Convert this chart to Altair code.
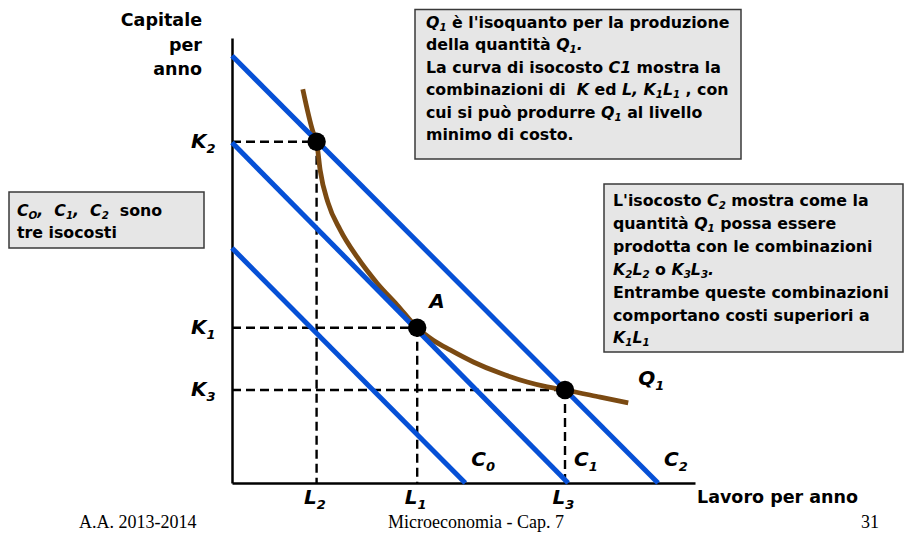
import glob
import os
import struct

import altair as alt
import pandas as pd

# ----------------------------------------------------------------- data
# isocost lines: intercept on the capital axis and on the labour axis
iso_names = ["C0", "C1", "C2"]
iso_k_int = [5.28, 7.65, 9.60]
iso_l_int = [5.24, 7.55, 9.57]

# isoquant Q1 (labour, capital)
q1_L = [1.59, 1.82, 1.90, 1.98, 2.16, 2.43, 2.81, 3.26, 3.71, 4.16,
        4.52, 4.90, 5.42, 6.02, 6.63, 7.08, 7.48, 8.27, 8.90]
q1_K = [8.85, 7.89, 7.67, 7.03, 6.29, 5.69, 5.08, 4.49, 4.00, 3.49,
        3.21, 2.99, 2.72, 2.47, 2.27, 2.16, 2.09, 1.93, 1.80]

# highlighted combinations
pt_names = ["K2L2", "A", "K3L3"]
pt_L = [1.90, 4.16, 7.48]
pt_K = [7.67, 3.49, 2.09]

# label texts
k_labels = [("K", "2"), ("K", "1"), ("K", "3")]
l_labels = [("L", "2"), ("L", "1"), ("L", "3")]
c_labels = [("C", "0"), ("C", "1"), ("C", "2")]
q_label = ("Q", "1")
a_label = "A"
y_title = ["Capitale", "per", "anno"]
x_title = "Lavoro per anno"
footer = ["A.A. 2013-2014", "Microeconomia - Cap. 7", "31"]

# text boxes: runs of (text, style)  b = bold, i = bold italic, s = subscript
box1_lines = [
    [("Q", "i"), ("1", "s"), (" è l'isoquanto per la produzione", "b")],
    [("della quantità ", "b"), ("Q", "i"), ("1", "s"), (".", "i")],
    [("La curva di isocosto ", "b"), ("C1", "i"), (" mostra la", "b")],
    [("combinazioni di  ", "b"), ("K", "i"), (" ed ", "b"), ("L, K", "i"),
     ("1", "s"), ("L", "i"), ("1", "s"), (" , con", "b")],
    [("cui si può produrre ", "b"), ("Q", "i"), ("1", "s"), (" al livello", "b")],
    [("minimo di costo.", "b")],
]
box2_lines = [
    [("C", "i"), ("O", "s"), (",  ", "i"), ("C", "i"), ("1", "s"), (",  ", "i"),
     ("C", "i"), ("2", "s"), ("  sono", "b")],
    [("tre isocosti", "b")],
]
box3_lines = [
    [("L'isocosto ", "b"), ("C", "i"), ("2", "s"), (" mostra come la", "b")],
    [("quantità ", "b"), ("Q", "i"), ("1", "s"), (" possa essere", "b")],
    [("prodotta con le combinazioni", "b")],
    [("K", "i"), ("2", "s"), ("L", "i"), ("2", "s"), (" o ", "b"), ("K", "i"),
     ("3", "s"), ("L", "i"), ("3", "s"), (".", "i")],
    [("Entrambe queste combinazioni", "b")],
    [("comportano costi superiori a", "b")],
    [("K", "i"), ("1", "s"), ("L", "i"), ("1", "s")],
]

# ----------------------------------------------------------------- font metrics
FALLBACK_BOLD = {
    " ": .348, "'": .332, ",": .380, ".": .380, "0": .696, "1": .696, "2": .696,
    "3": .696, "4": .696, "5": .696, "6": .696, "7": .696, "8": .696, "9": .696,
    "-": .415, "A": .774, "C": .734, "E": .683, "K": .775, "L": .637, "O": .850,
    "Q": .850, "a": .675, "b": .716, "c": .593, "d": .716, "e": .678, "f": .435,
    "g": .716, "h": .712, "i": .343, "l": .343, "m": 1.042, "n": .712, "o": .687,
    "p": .716, "q": .716, "r": .493, "s": .595, "t": .478, "u": .712, "v": .652,
    "z": .582, "à": .675, "è": .678, "ò": .687,
}


def _find_font(filename):
    roots = ["/usr/share/fonts", "/usr/local/share/fonts",
             os.path.expanduser("~/.fonts"), os.path.expanduser("~/.local/share/fonts")]
    for r in roots:
        if os.path.isdir(r):
            hits = glob.glob(os.path.join(r, "**", filename), recursive=True)
            if hits:
                return hits[0]
    return None


def _font_widths(filename):
    try:
        path = _find_font(filename)
        if path is None:
            return None
        data = open(path, "rb").read()
        ntab = struct.unpack(">H", data[4:6])[0]
        tables = {}
        for i in range(ntab):
            tag, _cs, off, ln = struct.unpack(">4sIII", data[12 + 16 * i:28 + 16 * i])
            tables[tag.decode("latin1")] = off
        head = tables["head"]
        upem = struct.unpack(">H", data[head + 18:head + 20])[0]
        hhea = tables["hhea"]
        nhm = struct.unpack(">H", data[hhea + 34:hhea + 36])[0]
        hmtx = tables["hmtx"]
        adv = [struct.unpack(">H", data[hmtx + 4 * i:hmtx + 4 * i + 2])[0] for i in range(nhm)]
        cmap = tables["cmap"]
        n = struct.unpack(">H", data[cmap + 2:cmap + 4])[0]
        sub = None
        for i in range(n):
            pid, eid, off = struct.unpack(">HHI", data[cmap + 4 + 8 * i:cmap + 12 + 8 * i])
            fmt = struct.unpack(">H", data[cmap + off:cmap + off + 2])[0]
            if fmt == 4 and (pid == 3 or pid == 0):
                sub = cmap + off
                if pid == 3:
                    break
        if sub is None:
            return None
        segx2 = struct.unpack(">H", data[sub + 6:sub + 8])[0]
        seg = segx2 // 2
        ends = struct.unpack(">%dH" % seg, data[sub + 14:sub + 14 + segx2])
        starts = struct.unpack(">%dH" % seg, data[sub + 16 + segx2:sub + 16 + 2 * segx2])
        deltas = struct.unpack(">%dh" % seg, data[sub + 16 + 2 * segx2:sub + 16 + 3 * segx2])
        rpos = sub + 16 + 3 * segx2
        roffs = struct.unpack(">%dH" % seg, data[rpos:rpos + segx2])

        def gid(c):
            for i in range(seg):
                if ends[i] >= c:
                    if starts[i] > c:
                        return 0
                    if roffs[i] == 0:
                        return (c + deltas[i]) & 0xFFFF
                    addr = rpos + 2 * i + roffs[i] + 2 * (c - starts[i])
                    g = struct.unpack(">H", data[addr:addr + 2])[0]
                    return (g + deltas[i]) & 0xFFFF if g else 0
            return 0

        table = {}

        def w(ch):
            if ch not in table:
                g = gid(ord(ch))
                table[ch] = adv[min(g, nhm - 1)] / upem
            return table[ch]
        return w
    except Exception:
        return None


_wb = _font_widths("DejaVuSans-Bold.ttf")
_ws = _font_widths("LiberationSerif-Regular.ttf")


def wbold(text, fs):
    if _wb is not None:
        return sum(_wb(c) for c in text) * fs
    return sum(FALLBACK_BOLD.get(c, .65) for c in text) * fs


def wserif(text, fs):
    if _ws is not None:
        return sum(_ws(c) for c in text) * fs
    return len(text) * 0.5 * fs


# ----------------------------------------------------------------- geometry helpers
PW, PH = 463, 445          # plot area
X0, Y0 = 232, 483          # page position of the origin
XMAX, YMAX = 10.4, 10.0
SX, SY = PW / XMAX, PH / YMAX


def dxp(px):
    return (px - X0) / SX


def dyp(py):
    return (Y0 - py) / SY


def px_of(x):
    return X0 + x * SX


def py_of(y):
    return Y0 - y * SY


normal_rows, italic_rows, serif_rows = [], [], []


def put_runs(runs, x_start, base, fs, sub_scale, sub_dy, align="left"):
    sizes = [fs * sub_scale if st == "s" else fs for _t, st in runs]
    total = sum(wbold(t, s) for (t, _st), s in zip(runs, sizes))
    cur = x_start - total if align == "right" else x_start
    for (t, st), s in zip(runs, sizes):
        lead = len(t) - len(t.lstrip(" "))
        stripped = t.strip(" ")
        if stripped:
            row = dict(x=dxp(cur + wbold(" " * lead, s)),
                       y=dyp(base + (sub_dy if st == "s" else 0)),
                       text=stripped, fs=s)
            (normal_rows if st == "b" else italic_rows).append(row)
        cur += wbold(t, s)


BOX_FS = 15.8
for i, line in enumerate(box1_lines):
    put_runs(line, 426, 27.5 + 22.5 * i, BOX_FS, 0.65, 3)
for i, line in enumerate(box2_lines):
    put_runs(line, 17, 216 + 21.5 * i, BOX_FS, 0.65, 3)
for i, line in enumerate(box3_lines):
    put_runs(line, 613, 206 + 22.9 * i, BOX_FS, 0.65, 3)

# axis titles
for i, t in enumerate(y_title):
    put_runs([(t, "b")], 202, 26 + 24.7 * i, 17.5, 1, 0, align="right")
put_runs([(x_title, "b")], 697, 503, 17.5, 1, 0)

LAB_FS = 20
for (m, s), k in zip(k_labels, sorted(pt_K, reverse=True)):
    put_runs([(m, "i"), (s, "s")], 191, py_of(k) + 6.5, LAB_FS, 0.65, 4.5)
for (m, s), l in zip(l_labels, sorted(pt_L)):
    put_runs([(m, "i"), (s, "s")], px_of(l) - 12.5, 504, LAB_FS, 0.65, 5)
for (m, s), li in zip(c_labels, iso_l_int):
    put_runs([(m, "i"), (s, "s")], px_of(li) + 6, 466, LAB_FS, 0.65, 5)
put_runs([(q_label[0], "i"), (q_label[1], "s")], px_of(q1_L[-1]) + 10, 385, LAB_FS, 0.65, 5)
put_runs([(a_label, "i")], px_of(pt_L[1]) + 12, 308, LAB_FS, 1, 0)

# footer
FOOT_FS = 18
FOOT_BASE = 527.5
serif_rows.append(dict(x=dxp(79), y=dyp(FOOT_BASE), text=footer[0], fs=FOOT_FS))
serif_rows.append(dict(x=dxp(388), y=dyp(FOOT_BASE), text=footer[1], fs=FOOT_FS))
serif_rows.append(dict(x=dxp(879 - wserif(footer[2], FOOT_FS)), y=dyp(FOOT_BASE),
                       text=footer[2], fs=FOOT_FS))

# ----------------------------------------------------------------- tables
iso_df = pd.DataFrame({"name": iso_names, "x0": 0.0, "y0": iso_k_int,
                       "x1": iso_l_int, "y1": 0.0})
q_df = pd.DataFrame({"L": q1_L, "K": q1_K, "order": range(len(q1_L))})
pt_df = pd.DataFrame({"name": pt_names, "L": pt_L, "K": pt_K})
dash_rows = []
for l, k in zip(pt_L, pt_K):
    dash_rows.append(dict(x0=0.0, x1=l, y0=k, y1=k))
    dash_rows.append(dict(x0=l, x1=l, y0=k, y1=0.0))
dash_df = pd.DataFrame(dash_rows)
box_df = pd.DataFrame({
    "x0": [dxp(415), dxp(9), dxp(604)],
    "x1": [dxp(741), dxp(204), dxp(903)],
    "y0": [dyp(9.5), dyp(192), dyp(184)],
    "y1": [dyp(159), dyp(248), dyp(352)],
})

# ----------------------------------------------------------------- chart
xs = alt.Scale(domain=[0, XMAX], nice=False, zero=False)
ys = alt.Scale(domain=[0, YMAX], nice=False, zero=False)
AX = alt.Axis(domain=True, domainColor="black", domainWidth=2.5, ticks=False,
              labels=False, grid=False, title=None)


def ex(f):
    return alt.X(f + ":Q", scale=xs, axis=AX, title=None)


def ey(f):
    return alt.Y(f + ":Q", scale=ys, axis=AX, title=None)


BLUE = "#0650D6"
BROWN = "#7B4A12"

boxes = alt.Chart(box_df).mark_rect(fill="#E6E6E6", stroke="#3A3A3A", strokeWidth=1.5).encode(
    x=ex("x0"), x2=alt.X2("x1"), y=ey("y0"), y2=alt.Y2("y1"))

dashes = alt.Chart(dash_df).mark_rule(color="black", strokeWidth=2.4, strokeDash=[9, 5]).encode(
    x=ex("x0"), x2=alt.X2("x1"), y=ey("y0"), y2=alt.Y2("y1"))

isoquant = alt.Chart(q_df).mark_line(color=BROWN, strokeWidth=4.8, interpolate="monotone").encode(
    x=ex("L"), y=ey("K"), order="order:Q")

isocost = alt.Chart(iso_df).mark_rule(color=BLUE, strokeWidth=5).encode(
    x=ex("x0"), x2=alt.X2("x1"), y=ey("y0"), y2=alt.Y2("y1"))

dots = alt.Chart(pt_df).mark_circle(color="black", size=340, opacity=1).encode(
    x=ex("L"), y=ey("K"))


def text_layer(rows, **kw):
    return alt.Chart(pd.DataFrame(rows)).mark_text(align="left", baseline="alphabetic",
                                                   color="black", **kw).encode(
        x=ex("x"), y=ey("y"), text="text:N", size=alt.Size("fs:Q", scale=None))


t_norm = text_layer(normal_rows, font="DejaVu Sans", fontWeight="bold")
t_ital = text_layer(italic_rows, font="DejaVu Sans", fontWeight="bold", fontStyle="italic")
t_serif = text_layer(serif_rows, font="Liberation Serif")

chart = alt.layer(boxes, dashes, isoquant, isocost, dots, t_norm, t_ital, t_serif).properties(
    width=PW, height=PH,
    padding={"left": X0 - 8, "top": Y0 - PH - 8, "right": 896 - (X0 - 8) - PW, "bottom": 50},
    autosize=alt.AutoSizeParams(type="none"),
).configure_view(stroke=None)

chart.save("out.html", embed_options={"renderer": "svg", "actions": False})
